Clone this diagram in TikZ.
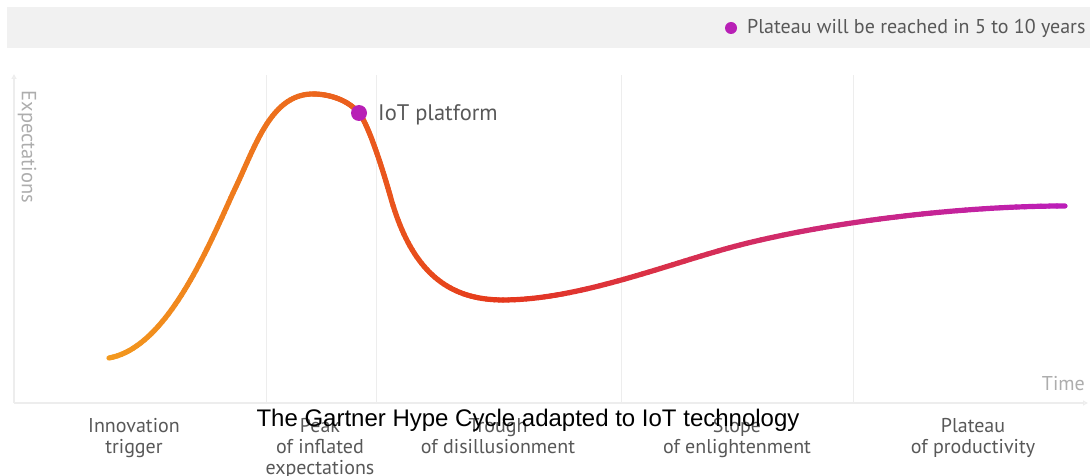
\documentclass[tikz,border=0pt]{standalone}
\usepackage{fontspec}
\setmainfont{PT Sans}
\newfontfamily\titlefont{Liberation Sans}
\usetikzlibrary{arrows.meta}

\definecolor{barbg}{HTML}{F1F1F1}
\definecolor{gridc}{HTML}{EDEDED}
\definecolor{labelc}{HTML}{585858}
\definecolor{axisc}{HTML}{ADADAD}
\definecolor{hypeorange}{HTML}{F39A1E}
\definecolor{hypered}{HTML}{E5381C}
\definecolor{hypemag}{HTML}{BC1EBA}
\definecolor{dotc}{HTML}{B820B6}

% one coordinate of a cubic Bezier: bez(t, p0, c1, c2, p3)
\pgfmathdeclarefunction{bez}{5}{%
  \pgfmathparse{(1-#1)^3*#2+3*(1-#1)^2*#1*#3+3*(1-#1)*#1^2*#4+#1^3*#5}}

\begin{document}
\begin{tikzpicture}[x=1pt,y=-1pt,
  phase/.style={font=\fontsize{20}{21}\selectfont, text=labelc, align=center,
    anchor=north, inner sep=0pt},
  gridline/.style={draw=gridc, line width=1pt},
  axisline/.style={draw=gridc, line width=1.2pt},
  axislabel/.style={font=\fontsize{20}{22}\selectfont, text=axisc, inner sep=0pt},
  plainlabel/.style={text=labelc, inner sep=0pt},
  marker/.style={circle, fill=dotc, inner sep=0pt},
  tipstyle/.style={-{Triangle[open, length=5pt, width=5pt]}},
  hypestroke/.style={line width=5.2pt, line cap=round}
]
\useasboundingbox (0,0) rectangle (1090,476);

% legend bar
\fill[barbg] (7,7) rectangle (1090,48);
\node[marker, minimum size=12pt] (legdot) at (731,28) {};
\node[plainlabel, anchor=base west, font=\fontsize{20}{22}\selectfont]
  (legtext) at (747,34) {Plateau will be reached in 5 to 10 years};

% axes and phase separators
\coordinate (origin) at (14,403);
\coordinate (ytop) at (14,74);
\coordinate (xend) at (1088,403);
\draw[axisline, tipstyle] (origin) -- (ytop);
\draw[axisline, tipstyle] (origin) -- (xend);
\foreach \gx/\nm in {266/ga, 376/gb, 621/gc, 853/gd} {
  \coordinate (\nm top) at (\gx,75);
  \coordinate (\nm bot) at (\gx,402);
  \draw[gridline] (\nm top) -- (\nm bot);
}
\node[axislabel, rotate=-90, font=\fontsize{20.5}{22}\selectfont] (ylab) at (27,147) {Expectations};
\node[axislabel, anchor=base east] (xlab) at (1085,390) {Time};

% hype curve: cubic pieces cut into short strokes, coloured by x
% (orange -> red at the trough -> magenta on the plateau)
\foreach \qa/\qb/\qc/\qd/\qe/\qf/\qg/\qh in {
    109/358/165/348/205/255/233/193,
    233/193/255/148/270/94/313/94,
    313/94/331/94/349/101/359/113,
    359/113/369/125/384/174/390/195,
    390/195/410/268/445/300/503/300,
    503/300/580/300/670/263/740/245,
    740/245/830/222/960/206/1065/206} {
  \foreach \k in {1,...,40} {
    \pgfmathsetmacro\tu{(\k-1)/40}
    \pgfmathsetmacro\tv{\k/40}
    \pgfmathsetmacro\xu{bez(\tu,\qa,\qc,\qe,\qg)}
    \pgfmathsetmacro\yu{bez(\tu,\qb,\qd,\qf,\qh)}
    \pgfmathsetmacro\xv{bez(\tv,\qa,\qc,\qe,\qg)}
    \pgfmathsetmacro\yv{bez(\tv,\qb,\qd,\qf,\qh)}
    \pgfmathsetmacro\xm{(\xu+\xv)/2}
    \pgfmathsetmacro\hpa{max(0,min(100,(\xm-109)/3.94))}
    \pgfmathsetmacro\hpb{max(0,min(100,(\xm-503)/5.62))}
    \colorlet{hypeA}{hypered!\hpa!hypeorange}
    \colorlet{hypeB}{hypemag!\hpb!hypeA}
    \draw[hypestroke, draw=hypeB] (\xu,\yu) -- (\xv,\yv);
  }
}

\node[marker, minimum size=16pt] (iotdot) at (359,113) {};
\node[plainlabel, anchor=base west, font=\fontsize{22.5}{24}\selectfont]
  (iotlabel) at (378,121) {IoT platform};

% phase names
\node[phase] (innov) at (134,418) {Innovation\\trigger};
\node[phase] (peak) at (320,418) {Peak\\of inflated\\expectations};
\node[phase] (trough) at (498,418) {Trough\\of disillusionment};
\node[phase] (slope) at (737,418) {Slope\\of enlightenment};
\node[phase] (plateau) at (973,418) {Plateau\\of productivity};

% caption
\node[inner sep=0pt, anchor=base, font=\titlefont\fontsize{24}{28}\selectfont]
  (caption) at (528,426) {The Gartner Hype Cycle adapted to IoT technology};
\end{tikzpicture}
\end{document}
